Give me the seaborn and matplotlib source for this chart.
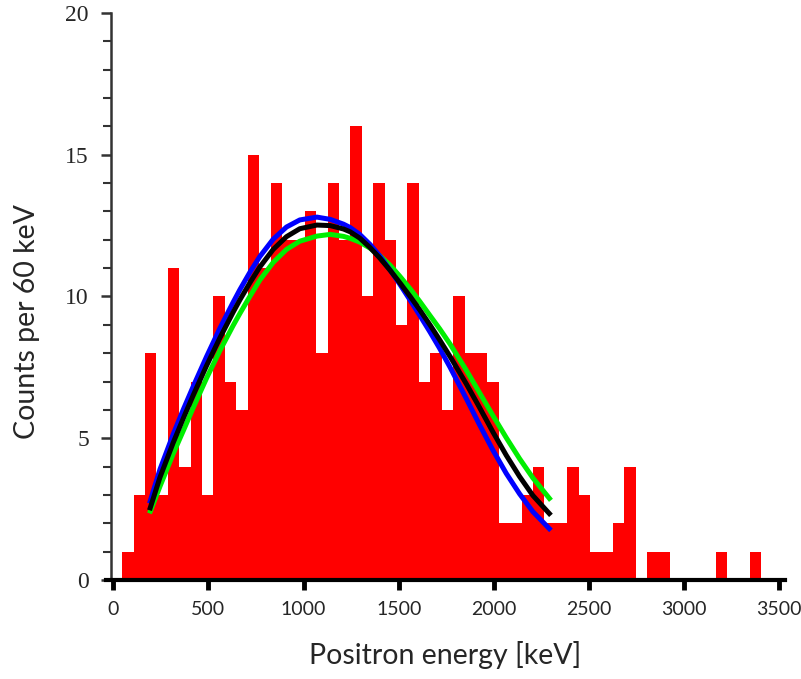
import numpy as np
import pandas as pd
import matplotlib
matplotlib.use("Agg")
import matplotlib.pyplot as plt
import seaborn as sns
from matplotlib.ticker import MultipleLocator

# ---- data ----
bin_width = 60
bin_start = 46
counts = [1, 3, 8, 3, 11, 4, 7, 3, 10, 7, 6, 15, 11, 14, 12, 12, 13, 8, 14, 12,
          16, 10, 14, 12, 9, 14, 7, 8, 6, 10, 8, 8, 7, 2, 2, 3, 4, 2, 2, 4,
          3, 1, 1, 2, 4, 0, 1, 1, 0, 0, 0, 0, 1, 0, 0, 1]

curve_x = [190, 245, 315, 370, 420, 490, 560, 630, 665, 720, 770, 840, 910, 980,
           1070, 1140, 1210, 1245, 1295, 1350, 1400, 1455, 1505, 1560, 1610, 1665,
           1715, 1770, 1855, 1925, 1995, 2065, 2135, 2205, 2300]
blue_y = [2.70, 3.90, 5.15, 6.05, 6.83, 7.88, 8.88, 9.80, 10.24, 10.88, 11.41, 12.02,
          12.45, 12.70, 12.80, 12.72, 12.55, 12.43, 12.19, 11.83, 11.43, 10.93, 10.44,
          9.87, 9.34, 8.74, 8.17, 7.50, 6.40, 5.47, 4.58, 3.76, 3.04, 2.41, 1.75]
black_y = [2.46, 3.62, 4.85, 5.74, 6.52, 7.56, 8.54, 9.45, 9.88, 10.51, 11.04, 11.66,
           12.11, 12.39, 12.52, 12.50, 12.38, 12.28, 12.06, 11.72, 11.36, 10.92, 10.49,
           10.00, 9.53, 8.99, 8.47, 7.88, 6.92, 6.08, 5.22, 4.40, 3.65, 2.98, 2.28]
green_y = [2.35, 3.30, 4.46, 5.30, 6.08, 7.12, 8.09, 8.98, 9.40, 10.03, 10.58, 11.20,
           11.66, 11.95, 12.13, 12.19, 12.12, 12.05, 11.92, 11.70, 11.44, 11.10, 10.72,
           10.27, 9.83, 9.32, 8.86, 8.32, 7.40, 6.60, 5.80, 5.02, 4.28, 3.60, 2.81]

x_ticks = [0, 500, 1000, 1500, 2000, 2500, 3000, 3500]
y_ticks = [0, 5, 10, 15, 20]

edges = [bin_start + bin_width * i for i in range(len(counts) + 1)]
centers = [e + bin_width / 2 for e in edges[:-1]]
hist_df = pd.DataFrame({"energy": centers, "count": counts})
curves = pd.DataFrame({"energy": curve_x, "blue": blue_y, "black": black_y, "green": green_y})

# ---- plot ----
sns.set_theme(style="ticks")
plt.rcParams["font.family"] = ["Lato", "DejaVu Sans"]

fig = plt.figure(figsize=(8.01, 6.79), dpi=100)
ax = fig.add_axes([0.132, 0.1458, 0.848, 0.8351])

sns.histplot(data=hist_df, x="energy", weights="count", bins=edges,
             color="#ff0000", alpha=1, linewidth=0, ax=ax)

for col, c in [("green", "#00ee00"), ("blue", "#0000ff"), ("black", "#000000")]:
    sns.lineplot(data=curves, x="energy", y=col, color=c, linewidth=3.6, ax=ax,
                 solid_joinstyle="round", solid_capstyle="butt")

ax.set_xlim(-40, 3530)
ax.set_ylim(0, 20)
ax.set_xticks(x_ticks)
ax.set_yticks(y_ticks)
ax.yaxis.set_minor_locator(MultipleLocator(1))

for s in ["top", "right"]:
    ax.spines[s].set_visible(False)
ax.spines["left"].set_position(("data", -12))
ax.spines["left"].set_color("#333333")
ax.spines["left"].set_linewidth(1.8)
ax.spines["bottom"].set_color("black")
ax.spines["bottom"].set_linewidth(3)

ax.tick_params(axis="x", direction="out", length=7, width=3.5, color="black",
               labelsize=14, pad=8)
ax.tick_params(axis="y", which="major", direction="out", length=7, width=1.8,
               color="#333333", pad=9)
ax.tick_params(axis="y", which="minor", direction="out", length=6, width=1.5,
               color="#333333")
for lab in ax.get_yticklabels():
    lab.set_fontfamily(["Liberation Serif", "DejaVu Serif"])
    lab.set_fontsize(17)

ax.set_xlabel("Positron energy [keV]", fontsize=20.5, labelpad=17)
ax.set_ylabel("Counts per 60 keV", fontsize=20.5)
ax.yaxis.set_label_coords(-0.097, 0.455)

fig.savefig("out.png", dpi=100)
